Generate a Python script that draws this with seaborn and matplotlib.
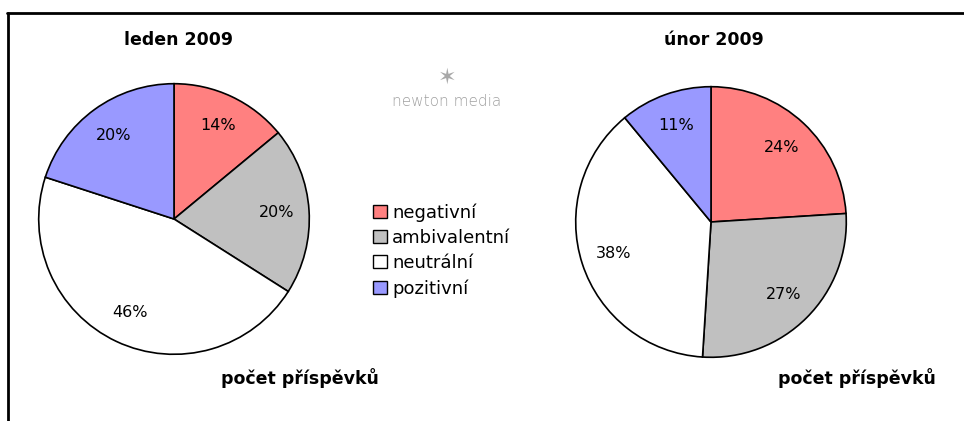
import numpy as np
import pandas as pd
import seaborn as sns
import matplotlib.pyplot as plt
from matplotlib.lines import Line2D
from matplotlib.patches import Patch

# --- data ---
categories = ["negativní", "ambivalentní", "neutrální", "pozitivní"]
leden_2009 = [14, 20, 46, 20]
unor_2009 = [24, 27, 38, 11]
titles = ["leden 2009", "únor 2009"]
subtitle = "počet příspěvků"

colors = ["#FF8080", "#C0C0C0", "#FFFFFF", "#9999FF"]

sns.set_theme(style="white")
plt.rcParams["font.family"] = ["DejaVu Sans"]
plt.rcParams["text.color"] = "black"

W, H = 964, 421
fig = plt.figure(figsize=(W / 100, H / 100), dpi=100)
fig.patch.set_facecolor("white")


def pie_axes(cx, cy, r):
    # pixel coords (top-left origin) -> figure fraction
    return fig.add_axes([(cx - r) / W, (H - cy - r) / H, 2 * r / W, 2 * r / H])


def draw_pie(ax, values):
    ax.pie(values, colors=colors, startangle=90, counterclock=False,
           autopct=lambda p: f"{p:.0f}%", pctdistance=0.76,
           wedgeprops=dict(edgecolor="black", linewidth=1.2),
           textprops=dict(fontsize=11.5, color="black"))
    ax.set_xlim(-1.02, 1.02)
    ax.set_ylim(-1.02, 1.02)
    ax.set_aspect("equal")
    ax.axis("off")


ax1 = pie_axes(174, 219, 138)
draw_pie(ax1, leden_2009)
ax2 = pie_axes(711, 222, 138)
draw_pie(ax2, unor_2009)

# titles and subtitles
fig.text(178 / W, 1 - 40 / H, titles[0], ha="center", va="center",
         fontsize=12.5, fontweight="bold")
fig.text(714 / W, 1 - 40 / H, titles[1], ha="center", va="center",
         fontsize=12.5, fontweight="bold")
fig.text(300 / W, 1 - 378 / H, subtitle, ha="center", va="center",
         fontsize=12.5, fontweight="bold")
fig.text(857 / W, 1 - 378 / H, subtitle, ha="center", va="center",
         fontsize=12.5, fontweight="bold")

# logo text
fig.text(447 / W, 1 - 78 / H, "✶", ha="center", va="center",
         fontsize=16, color="#a8a8a8")
fig.text(447 / W, 1 - 101 / H, "newton media", ha="center", va="center",
         fontsize=11, color="#a0a0a0", fontweight="light")

# legend
handles = [Patch(facecolor=c, edgecolor="black", linewidth=1) for c in colors]
fig.legend(handles, categories, loc="upper left",
           bbox_to_anchor=(366 / W, 1 - 196 / H), frameon=False,
           fontsize=13, handlelength=0.75, handleheight=0.75,
           handletextpad=0.3, labelspacing=0.4, borderaxespad=0)

# frame lines (top and left only)
fig.add_artist(Line2D([7 / W, 1], [1 - 13 / H, 1 - 13 / H], color="black",
                      linewidth=2, transform=fig.transFigure))
fig.add_artist(Line2D([8 / W, 8 / W], [0, 1 - 13 / H], color="black",
                      linewidth=2, transform=fig.transFigure))

fig.savefig("out.png", dpi=100)
